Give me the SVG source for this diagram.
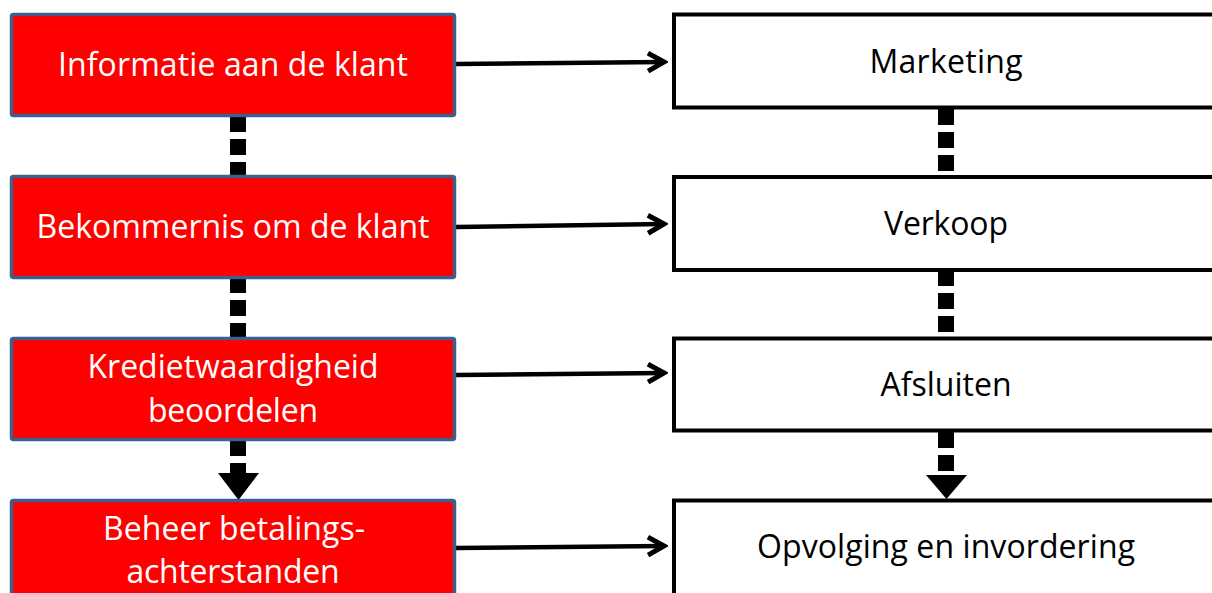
<svg xmlns="http://www.w3.org/2000/svg" width="1212" height="593" viewBox="0 0 1212 593">
<style>
.red{fill:#ff0000;stroke:#3d5f8c;stroke-width:3.5}
.wht{fill:#ffffff;stroke:#000000;stroke-width:4}
.lt{font-family:"Open Sans","Liberation Sans",sans-serif;font-size:32px;fill:#ffffff;text-anchor:middle}
.rt{font-family:"Open Sans","Liberation Sans",sans-serif;font-size:32px;fill:#000000;text-anchor:middle}
.dash{stroke:#000;stroke-width:16;stroke-dasharray:16 7;fill:none}
.harr{stroke:#000;stroke-width:4.5;fill:none;marker-end:url(#chev)}
</style>
<defs>
<marker id="chev" markerUnits="userSpaceOnUse" markerWidth="24" markerHeight="24" refX="20" refY="12" orient="auto">
<path d="M4,3 L20,12 L4,21" fill="none" stroke="#000" stroke-width="5" stroke-linejoin="miter"/>
</marker>
</defs>
<rect width="1212" height="593" fill="#ffffff"/>
<g id="connectors">
<line class="harr" x1="456" y1="64" x2="664" y2="62"/>
<line class="harr" x1="456" y1="227" x2="664" y2="224"/>
<line class="harr" x1="456" y1="375" x2="664" y2="373"/>
<line class="harr" x1="456" y1="548" x2="664" y2="546"/>
<line class="dash" x1="238" y1="116" x2="238" y2="178"/>
<line class="dash" x1="238" y1="277" x2="238" y2="339"/>
<line class="dash" x1="238" y1="440" x2="238" y2="475"/>
<polygon points="218,473 259,473 238.5,500" fill="#000"/>
<line class="dash" x1="946" y1="109" x2="946" y2="178"/>
<line class="dash" x1="946" y1="270" x2="946" y2="338"/>
<line class="dash" x1="946" y1="432" x2="946" y2="477"/>
<polygon points="926,475 967,475 946.5,499" fill="#000"/>
</g>
<g id="n1"><rect class="red" x="11.5" y="14.5" width="443" height="101" rx="2"/><text class="lt" x="233" y="76" textLength="350">Informatie aan de klant</text></g>
<g id="n2"><rect class="red" x="11.5" y="176.5" width="443" height="101" rx="2"/><text class="lt" x="233" y="238" textLength="393">Bekommernis om de klant</text></g>
<g id="n3"><rect class="red" x="11.5" y="338.5" width="443" height="101" rx="2"/><text class="lt" x="233" y="378" textLength="291">Kredietwaardigheid</text><text class="lt" x="233" y="422" textLength="170">beoordelen</text></g>
<g id="n4"><rect class="red" x="11.5" y="500.5" width="443" height="101" rx="2"/><text class="lt" x="234" y="540" textLength="262">Beheer betalings-</text><text class="lt" x="233" y="583" textLength="213">achterstanden</text></g>
<g id="m1"><rect class="wht" x="674" y="14.5" width="600" height="93"/><text class="rt" x="946" y="73" textLength="153">Marketing</text></g>
<g id="m2"><rect class="wht" x="674" y="177" width="600" height="93"/><text class="rt" x="946" y="235" textLength="124">Verkoop</text></g>
<g id="m3"><rect class="wht" x="674" y="338.5" width="600" height="92"/><text class="rt" x="946" y="396" textLength="131">Afsluiten</text></g>
<g id="m4"><rect class="wht" x="674" y="500.5" width="600" height="100"/><text class="rt" x="946" y="558" textLength="378">Opvolging en invordering</text></g>
</svg>
